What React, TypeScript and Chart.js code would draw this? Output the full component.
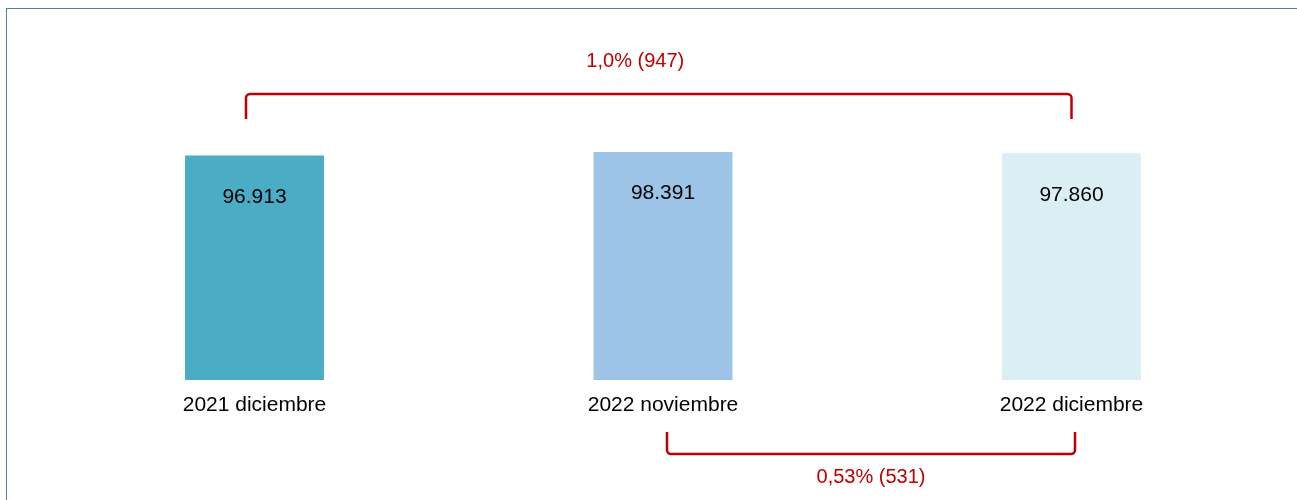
import React, { useEffect, useRef } from "react";
import { Chart, registerables } from "chart.js";

Chart.register(...registerables);

const categories = ["2021 diciembre", "2022 noviembre", "2022 diciembre"];
const values = [96913, 98391, 97860];
const valueLabels = ["96.913", "98.391", "97.860"];
const barColors = ["#4BACC6", "#9DC3E6", "#DAEEF3"];

// comparison brackets: from category index -> to category index
const bracketFrom = [0, 1];
const bracketTo = [2, 2];
const bracketLabels = ["1,0% (947)", "0,53% (531)"];
const bracketSide = ["top", "bottom"];

const RED = "#C00000";
const FONT = "'Liberation Sans', Arial, sans-serif";

const annotationPlugin = {
  id: "annotations",
  afterDatasetsDraw(chart: any) {
    const ctx = chart.ctx;
    const meta = chart.getDatasetMeta(0);
    const area = chart.chartArea;
    ctx.save();
    // value labels inside bars
    ctx.font = `21px ${FONT}`;
    ctx.fillStyle = "#000";
    ctx.textAlign = "center";
    ctx.textBaseline = "middle";
    meta.data.forEach((bar: any, i: number) => {
      ctx.fillText(valueLabels[i], bar.x, bar.y + 41.5);
    });

    // brackets
    const offsets = [
      { l: -8.5, r: 0, text: -23.5 },
      { l: 4, r: 3.5, text: 0 },
    ];
    ctx.strokeStyle = RED;
    ctx.lineWidth = 2.5;
    ctx.fillStyle = RED;
    ctx.font = `20px ${FONT}`;
    bracketFrom.forEach((from, k) => {
      const x1 = meta.data[from].x + offsets[k].l;
      const x2 = meta.data[bracketTo[k]].x + offsets[k].r;
      const r = 4;
      let yLine: number, yStub: number, yText: number;
      if (bracketSide[k] === "top") {
        yLine = area.top - 8;
        yStub = area.top + 17;
        yText = area.top - 41;
      } else {
        yLine = area.bottom + 74;
        yStub = area.bottom + 52;
        yText = area.bottom + 97.5;
      }
      ctx.beginPath();
      ctx.moveTo(x1, yStub);
      ctx.arcTo(x1, yLine, x1 + r, yLine, r);
      ctx.arcTo(x2, yLine, x2, yStub, r);
      ctx.lineTo(x2, yStub);
      ctx.stroke();
      ctx.fillText(bracketLabels[k], (x1 + x2) / 2 + offsets[k].text, yText);
    });
    ctx.restore();
  },
};

export default function App() {
  const ref = useRef<HTMLCanvasElement | null>(null);
  useEffect(() => {
    document.body.style.overflow = "hidden";
    if (!ref.current) return;
    const chart = new Chart(ref.current, {
      type: "bar",
      data: {
        labels: categories,
        datasets: [
          {
            data: values,
            backgroundColor: barColors,
            borderWidth: 0,
            barPercentage: 0.34,
            categoryPercentage: 1,
          },
        ],
      },
      options: {
        animation: false,
        responsive: true,
        maintainAspectRatio: false,
        layout: { padding: { left: 43.25, right: 21.25, top: 93, bottom: 80 } },
        plugins: {
          legend: { display: false },
          tooltip: { enabled: false },
        },
        scales: {
          x: {
            grid: { display: false, drawTicks: false },
            border: { display: false },
            ticks: {
              color: "#000",
              font: { family: FONT, size: 21 },
              padding: 13,
              maxRotation: 0,
            },
            afterFit: (scale: any) => {
              scale.height = 40;
            },
          },
          y: {
            display: false,
            min: 0,
            max: 120000,
          },
        },
      },
      plugins: [annotationPlugin],
    });
    return () => chart.destroy();
  }, []);

  return (
    <div
      style={{
        position: "fixed",
        left: 6,
        top: 8,
        width: 1291,
        height: 492,
        boxSizing: "border-box",
        borderTop: "1px solid #4F8592",
        borderLeft: "1px solid #4F8592",
      }}
    >
      <div style={{ position: "relative", width: 1290, height: 491 }}>
        <canvas ref={ref} />
      </div>
    </div>
  );
}
